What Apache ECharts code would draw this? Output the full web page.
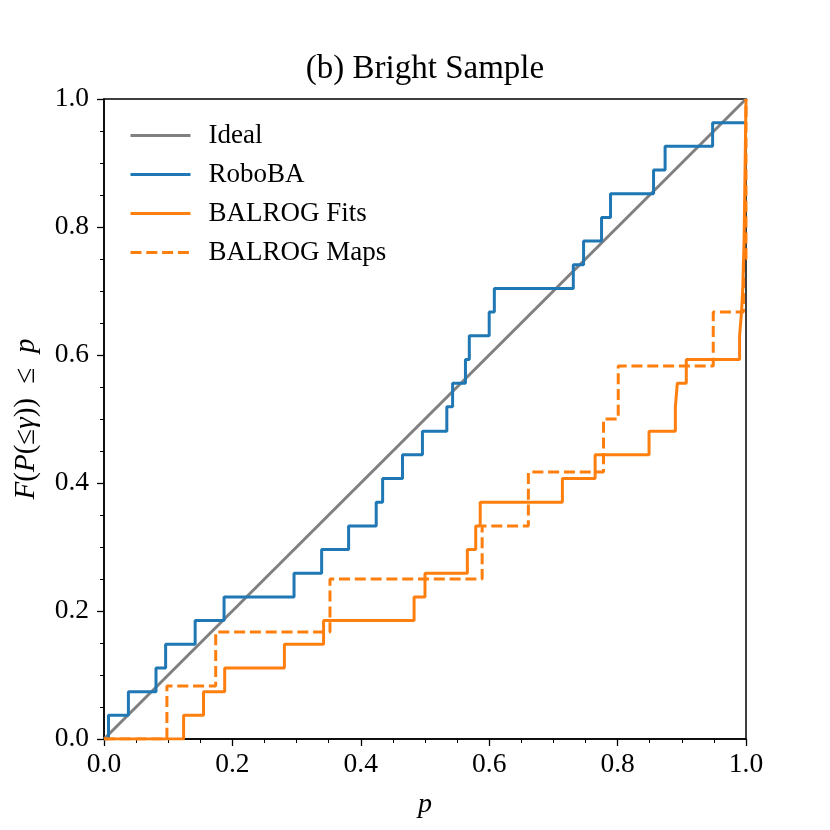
<!DOCTYPE html>
<html>
<head>
<meta charset="utf-8">
<script src="https://cdn.jsdelivr.net/npm/echarts@6/dist/echarts.min.js"></script>
<style>
  html, body { margin: 0; padding: 0; background: #fff; }
  #chart { width: 830px; height: 830px; }
</style>
</head>
<body>
<div id="chart"></div>
<script>
// p values where each empirical CDF jumps, and the level after the jump
const roboP = [0.007, 0.038, 0.081, 0.096, 0.142, 0.187, 0.296, 0.339, 0.381, 0.424, 0.434, 0.465, 0.496,
  0.534, 0.543, 0.563, 0.569, 0.600, 0.608, 0.731, 0.747, 0.775, 0.789, 0.856, 0.874, 0.948, 1.0];
const roboF = [0.037, 0.074, 0.111, 0.148, 0.185, 0.222, 0.259, 0.296, 0.333, 0.370, 0.407, 0.444, 0.481,
  0.519, 0.556, 0.593, 0.630, 0.667, 0.704, 0.741, 0.778, 0.815, 0.852, 0.889, 0.926, 0.963, 0.963];

const fitsP = [0.124, 0.155, 0.188, 0.281, 0.342, 0.483, 0.500, 0.566, 0.579, 0.586, 0.714, 0.765, 0.849,
  0.890, 0.893, 0.907, 0.990, 0.993, 0.995, 0.996, 0.997, 1.0];
const fitsF = [0.037, 0.074, 0.111, 0.148, 0.185, 0.222, 0.259, 0.296, 0.333, 0.370, 0.407, 0.444, 0.481,
  0.519, 0.556, 0.593, 0.630, 0.667, 0.704, 0.741, 0.778, 1.0];

const mapsP = [0.098, 0.174, 0.352, 0.589, 0.661, 0.778, 0.801, 0.949, 0.996, 1.0];
const mapsF = [0.083, 0.167, 0.250, 0.333, 0.417, 0.500, 0.583, 0.667, 0.750, 1.0];

const idealP = [0, 1];
const idealF = [0, 1];

const axisTicks = [0, 0.2, 0.4, 0.6, 0.8, 1.0];

// turn jump positions into a staircase starting at (0, 0)
function steps(ps, fs) {
  const pts = [[0, 0]];
  let prev = 0;
  ps.forEach((p, i) => {
    pts.push([p, prev]);
    pts.push([p, fs[i]]);
    prev = fs[i];
  });
  return pts;
}

const serif = 'Liberation Serif';
const orange = '#ff7f0e';
const lw = 3;

const chart = echarts.init(document.getElementById('chart'), null, { renderer: 'canvas' });

const axisCommon = {
  type: 'value',
  min: 0,
  max: 1,
  interval: 0.2,
  axisLine: { show: true, lineStyle: { color: '#000', width: 1.5 } },
  axisTick: { show: true, inside: false, length: 7, lineStyle: { color: '#000', width: 1.3 } },
  minorTick: { show: true, splitNumber: 4, length: 4, lineStyle: { color: '#000', width: 1 } },
  splitLine: { show: false },
  axisLabel: {
    color: '#000', fontFamily: serif, fontSize: 27.5,
    formatter: v => axisTicks.includes(Math.round(v * 10) / 10) ? v.toFixed(1) : ''
  }
};

chart.setOption({
  animation: false,
  backgroundColor: '#fff',
  // title centred over the plot area, not the whole canvas
  graphic: [{
    type: 'text',
    x: 425,
    y: 53,
    style: {
      text: '(b) Bright Sample',
      align: 'center',
      verticalAlign: 'top',
      fontFamily: serif,
      fontSize: 33,
      fill: '#000'
    }
  }],
  grid: {
    left: 104, right: 84, top: 99, bottom: 91,
    show: true, borderColor: '#000', borderWidth: 1.5, backgroundColor: 'transparent'
  },
  legend: {
    orient: 'vertical',
    left: 124,
    top: 117,
    itemWidth: 60,
    itemHeight: 14,
    itemGap: 12,
    itemStyle: { opacity: 0 },
    lineStyle: { width: 3 },
    textStyle: { fontFamily: serif, fontSize: 27, color: '#000', padding: [0, 0, 0, 13] },
    data: ['Ideal', 'RoboBA', 'BALROG Fits', 'BALROG Maps']
  },
  xAxis: Object.assign({}, axisCommon, {
    name: 'p',
    nameLocation: 'middle',
    nameGap: 52,
    nameTextStyle: { fontFamily: serif, fontSize: 28, fontStyle: 'italic', color: '#000' },
    axisLabel: Object.assign({}, axisCommon.axisLabel, { margin: 12 })
  }),
  yAxis: Object.assign({}, axisCommon, {
    name: '{i|F}({i|P}(≤{i|γ}))  ≤  {i|p}',
    nameLocation: 'middle',
    nameGap: 63,
    nameRotate: 90,
    nameTextStyle: {
      fontFamily: serif, fontSize: 29, color: '#000',
      rich: { i: { fontFamily: serif, fontSize: 29, fontStyle: 'italic', color: '#000' } }
    },
    axisLabel: Object.assign({}, axisCommon.axisLabel, { margin: 15 })
  }),
  series: [
    {
      name: 'Ideal', type: 'line', data: idealP.map((p, i) => [p, idealF[i]]),
      showSymbol: false, symbol: 'none', lineStyle: { color: '#808080', width: lw },
      itemStyle: { color: '#808080' }, z: 2
    },
    {
      name: 'RoboBA', type: 'line', data: steps(roboP, roboF),
      showSymbol: false, symbol: 'none', lineStyle: { color: '#1f77b4', width: lw },
      itemStyle: { color: '#1f77b4' }, z: 3
    },
    {
      name: 'BALROG Fits', type: 'line', data: steps(fitsP, fitsF),
      showSymbol: false, symbol: 'none', lineStyle: { color: orange, width: lw },
      itemStyle: { color: orange }, z: 4
    },
    {
      name: 'BALROG Maps', type: 'line', data: steps(mapsP, mapsF),
      showSymbol: false, symbol: 'none', lineStyle: { color: orange, width: lw, type: [11, 4.8] },
      itemStyle: { color: orange }, z: 5
    }
  ]
});
</script>
</body>
</html>
